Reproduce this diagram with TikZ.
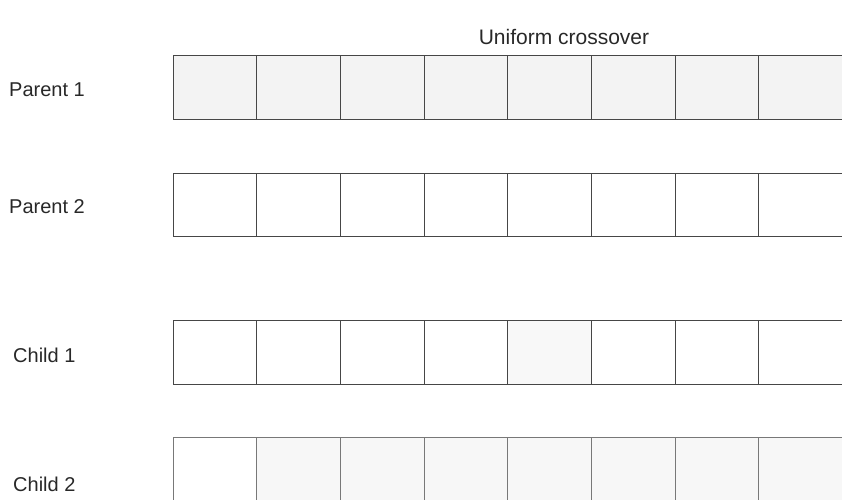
\documentclass[tikz,border=0pt]{standalone}
\usepackage{fontspec}
\setmainfont{Liberation Sans}
\usepackage{xcolor}
\usetikzlibrary{positioning}
\definecolor{gaLine}{RGB}{70,70,70}
\definecolor{gaFaint}{RGB}{120,120,120}
\definecolor{gaShade}{RGB}{238,238,238}
\definecolor{gaText}{RGB}{40,40,40}

\begin{document}
\begin{tikzpicture}[x=1pt, y=-1pt,
    gene/.style={rectangle, draw=gaLine, line width=0.9pt, inner sep=0pt,
                 outer sep=0pt, minimum width=83.7pt, minimum height=63.5pt},
    rowlabel/.style={anchor=west, inner sep=0pt, text=gaText,
                     font=\fontsize{20}{24}\selectfont}]
\useasboundingbox (0,0) rectangle (842,499);
\clip (0,0) rectangle (842,499);

\node[inner sep=0pt, text=gaText, font=\fontsize{21}{25}\selectfont] (title) at (564,37) {Uniform crossover};

% the four chromosomes, eight genes each
\foreach \i in {1,...,8} {
  \node[gene, fill=gaShade!70] (pa\i) at ({173+83.7*(\i-0.5)},87.5) {};
  \node[gene] (pb\i) at ({173+83.7*(\i-0.5)},205) {};
  \node[gene] (ca\i) at ({173+83.7*(\i-0.5)},352.5) {};
  \node[gene, draw=gaFaint, fill=gaShade!45] (cb\i) at ({173+83.7*(\i-0.5)},469) {};
}
\node[gene, fill=gaShade!40] at (ca5) {};
\node[gene, draw=gaFaint, fill=white] at (cb1) {};

\node[rowlabel] (lblpa) at (9,90) {Parent 1};
\node[rowlabel] (lblpb) at (9,207) {Parent 2};
\node[rowlabel] (lblca) at (13,355) {Child 1};
\node[rowlabel] (lblcb) at (13,484) {Child 2};
\end{tikzpicture}
\end{document}
